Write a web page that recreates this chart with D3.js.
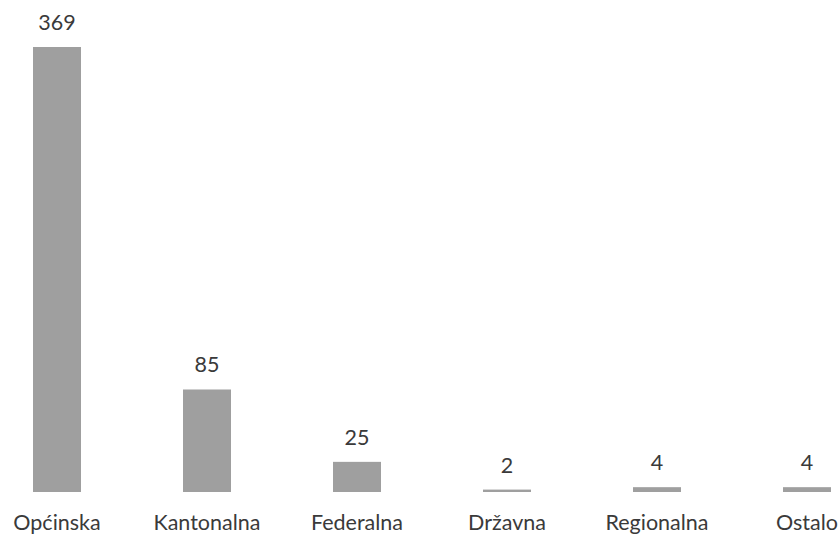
<!DOCTYPE html>
<html><head><meta charset="utf-8">
<script src="https://cdn.jsdelivr.net/npm/d3@7"></script>
<style>body{margin:0;background:#fff}</style>
</head><body>
<svg id="c" width="838" height="535"></svg>
<script>
const categories = ["Općinska","Kantonalna","Federalna","Državna","Regionalna","Ostalo"];
const values = [369, 85, 25, 2, 4, 4];

const svg = d3.select("#c");
const x = d3.scaleBand().domain(categories).range([-18, 882]).paddingInner(0.68).paddingOuter(0.34);
const y = d3.scaleLinear().domain([0, 369]).range([492, 47]);
const font = "Lato, 'Open Sans', sans-serif";

svg.selectAll("rect.bar").data(values).join("rect")
  .attr("class","bar")
  .attr("x",(d,i)=>x(categories[i]))
  .attr("width",x.bandwidth())
  .attr("y",d=>y(d))
  .attr("height",d=>y(0)-y(d))
  .attr("fill","#9f9f9f");

svg.selectAll("text.val").data(values).join("text")
  .attr("class","val")
  .attr("x",(d,i)=>x(categories[i])+x.bandwidth()/2)
  .attr("y",d=>y(d)-17)
  .attr("text-anchor","middle")
  .attr("font-family",font)
  .attr("font-size",21.5)
  .attr("fill","#3a3a3a")
  .text(d=>d);

const ax = svg.append("g").attr("transform","translate(0,492)")
  .call(d3.axisBottom(x).tickSize(0).tickPadding(38));
ax.select(".domain").remove();
ax.selectAll("text").attr("dy","0").attr("font-family",font)
  .attr("font-size",21.5).attr("fill","#3a3a3a");
</script>
</body></html>
